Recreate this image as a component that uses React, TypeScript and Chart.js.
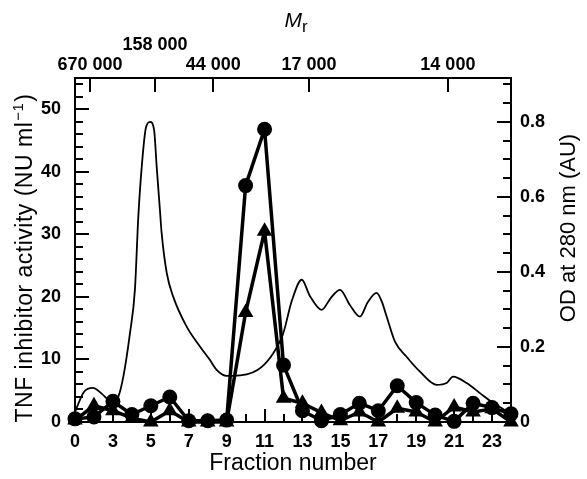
import React, { useEffect, useRef } from "react";
import { Chart, registerables } from "chart.js";

Chart.register(...registerables);

// ---- data ----
const fractions = [1, 2, 3, 4, 5, 6, 7, 8, 9, 10, 11, 12, 13, 14, 15, 16, 17, 18, 19, 20, 21, 22, 23, 24];
const circleValues = [0.5, 0.8, 3.3, 1.2, 2.6, 4.0, 0.2, 0.2, 0.3, 37.8, 46.8, 9.1, 1.8, 0.2, 1.2, 3.0, 1.8, 5.8, 3.1, 1.1, 0.1, 3.0, 2.3, 1.3];
const triangleValues = [0.3, 2.6, 1.8, 0.6, 0.0, 1.8, 0.0, 0.0, 0.0, 17.5, 30.5, 3.8, 3.0, 1.5, 0.2, 1.6, 0.0, 2.2, 1.6, 0.0, 2.4, 1.6, 2.1, 0.0];

const odFractions = [1.0, 1.47, 1.95, 2.42, 2.95, 3.28, 3.55, 3.9, 4.16, 4.34, 4.52, 4.74, 4.96, 5.17, 5.31, 5.48, 5.57, 5.84, 6.18, 6.89, 7.59, 8.12, 8.47, 9.0, 9.33, 11.92, 12.45, 12.96, 13.39, 14.01, 14.5, 14.98, 15.5, 16.03, 16.45, 16.91, 17.19, 17.44, 17.88, 18.49, 19.2, 20.08, 20.6, 20.94, 21.66, 22.36, 23.05, 23.94];
const odValues = [0.027, 0.08, 0.091, 0.075, 0.053, 0.067, 0.121, 0.237, 0.352, 0.547, 0.68, 0.784, 0.8, 0.779, 0.68, 0.565, 0.504, 0.397, 0.334, 0.254, 0.201, 0.165, 0.139, 0.123, 0.123, 0.227, 0.325, 0.379, 0.336, 0.299, 0.331, 0.352, 0.312, 0.281, 0.32, 0.344, 0.32, 0.281, 0.214, 0.174, 0.134, 0.099, 0.104, 0.121, 0.104, 0.077, 0.051, 0.024];

const bottomTickValues = [1, 3, 5, 7, 9, 11, 13, 15, 17, 19, 21, 23];
const bottomTickLabels = ["0", "3", "5", "7", "9", "11", "13", "15", "17", "19", "21", "23"];
const topTickValues = [1.79, 5.22, 8.29, 13.34, 20.67];
const topTickLabels = ["670 000", "158 000", "44 000", "17 000", "14 000"];
const topTickRaised = [false, true, false, false, false];
const leftTickValues = [0, 10, 20, 30, 40, 50];
const rightTickValues = [0, 0.2, 0.4, 0.6, 0.8];
const rightTickLabels = ["0", "0.2", "0.4", "0.6", "0.8"];

const leftTitleMain = "TNF inhibitor activity (NU ml";
const leftTitleSup = "\u22121";
const leftTitleEnd = ")";
const rightTitle = "OD at 280 nm (AU)";

const X_MIN = 1;
const X_MAX = 24;
const LEFT_MAX = 55;
const RIGHT_MAX = 55 / 60;

const FONT = "'Liberation Sans', Arial, Helvetica, sans-serif";

const inwardTicks = {
  id: "inwardTicks",
  beforeDatasetsDraw(chart: any) {
    const { ctx, chartArea: a, scales } = chart;
    ctx.save();
    ctx.strokeStyle = "#000";
    ctx.lineWidth = 2;
    ctx.beginPath();
    for (let v = 0; v <= 54; v += 2) {
      const y = Math.round(scales.y.getPixelForValue(v));
      const len = v % 10 === 0 ? 14 : 8;
      ctx.moveTo(a.left, y);
      ctx.lineTo(a.left + len, y);
    }
    for (let k = 0; k <= 18; k++) {
      const y = Math.round(scales.y2.getPixelForValue(k * 0.05));
      const len = k % 4 === 0 ? 14 : 8;
      ctx.moveTo(a.right, y);
      ctx.lineTo(a.right - len, y);
    }
    for (let f = 1; f <= 24; f++) {
      const x = Math.round(scales.x.getPixelForValue(f));
      const len = f % 2 === 1 ? 13 : 8;
      ctx.moveTo(x, a.bottom);
      ctx.lineTo(x, a.bottom - len);
    }
    topTickValues.forEach((v) => {
      const x = Math.round(scales.x2.getPixelForValue(v));
      ctx.moveTo(x, a.top);
      ctx.lineTo(x, a.top + 14);
    });
    ctx.stroke();
    ctx.restore();
  },
  afterDraw(chart: any) {
    const { ctx, chartArea: a } = chart;
    const midY = (a.top + a.bottom) / 2;
    ctx.save();
    ctx.fillStyle = "#000";
    // M_r title
    const cx = (a.left + a.right) / 2;
    ctx.textBaseline = "alphabetic";
    ctx.textAlign = "left";
    ctx.font = `italic 21px ${FONT}`;
    ctx.fillText("M", cx - 8.5, 27);
    const wM = ctx.measureText("M").width;
    ctx.font = `17px ${FONT}`;
    ctx.fillText("r", cx - 8.5 + wM, 32);
    ctx.restore();

    // left axis title (bottom to top) with superscript
    ctx.save();
    ctx.fillStyle = "#000";
    ctx.textBaseline = "alphabetic";
    ctx.textAlign = "left";
    (ctx as any).letterSpacing = "0.5px";
    const mainFont = `23px ${FONT}`;
    const supFont = `15px ${FONT}`;
    ctx.font = mainFont;
    const w1 = ctx.measureText(leftTitleMain).width;
    const w3 = ctx.measureText(leftTitleEnd).width;
    ctx.font = supFont;
    const w2 = ctx.measureText(leftTitleSup).width;
    const total = w1 + w2 + w3 + 2;
    ctx.translate(32, midY + 8);
    ctx.rotate(-Math.PI / 2);
    let x0 = -total / 2;
    ctx.font = mainFont;
    ctx.fillText(leftTitleMain, x0, 0);
    x0 += w1 + 1;
    ctx.font = supFont;
    ctx.fillText(leftTitleSup, x0, -9);
    x0 += w2 + 1;
    ctx.font = mainFont;
    ctx.fillText(leftTitleEnd, x0, 0);
    ctx.restore();

    // right axis title (reads bottom to top)
    ctx.save();
    ctx.fillStyle = "#000";
    ctx.translate(chart.width - 12, midY - 22);
    ctx.rotate(-Math.PI / 2);
    ctx.textAlign = "center";
    ctx.textBaseline = "alphabetic";
    ctx.font = `22px ${FONT}`;
    ctx.fillText(rightTitle, 0, 0);
    ctx.restore();
  },
};

export default function App() {
  const ref = useRef<HTMLCanvasElement | null>(null);

  useEffect(() => {
    if (!ref.current) return;
    Chart.defaults.font.family = FONT;
    Chart.defaults.color = "#000";
    const tickFont = { size: 18, weight: "bold" as const, lineHeight: 1.12 };
    const noGrid = { display: false, drawTicks: false };

    const chart = new Chart(ref.current, {
      type: "line",
      data: {
        datasets: [
          {
            label: "circles",
            data: fractions.map((f, i) => ({ x: f, y: circleValues[i] })),
            yAxisID: "y",
            xAxisID: "x",
            borderColor: "#000",
            backgroundColor: "#000",
            borderWidth: 3.5,
            borderJoinStyle: "round",
            pointStyle: "circle",
            pointRadius: 7.5,
            pointBackgroundColor: "#000",
            pointBorderColor: "#000",
            pointBorderWidth: 0,
            tension: 0,
            clip: false,
          },
          {
            label: "triangles",
            data: fractions.map((f, i) => ({ x: f, y: triangleValues[i] })),
            yAxisID: "y",
            xAxisID: "x",
            borderColor: "#000",
            backgroundColor: "#000",
            borderWidth: 3.5,
            borderJoinStyle: "round",
            pointStyle: "triangle",
            pointRadius: 9,
            pointBackgroundColor: "#000",
            pointBorderColor: "#000",
            pointBorderWidth: 0,
            tension: 0,
            clip: false,
          },
          {
            label: "OD",
            data: odFractions.map((f, i) => ({ x: f, y: odValues[i] })),
            yAxisID: "y2",
            xAxisID: "x",
            borderColor: "#000",
            borderWidth: 1.8,
            pointRadius: 0,
            tension: 0.4,
            cubicInterpolationMode: "monotone",
            clip: false,
          },
        ],
      },
      options: {
        animation: false,
        responsive: false,
        devicePixelRatio: 1,
        layout: { padding: 0 },
        plugins: {
          legend: { display: false },
          tooltip: { enabled: false },
          title: { display: false },
        },
        scales: {
          x: {
            type: "linear",
            position: "bottom",
            min: X_MIN,
            max: X_MAX,
            grid: noGrid,
            border: { display: true, color: "#000", width: 2 },
            afterBuildTicks: (s: any) => {
              s.ticks = bottomTickValues.map((v) => ({ value: v }));
            },
            afterFit: (s: any) => {
              s.height = 57;
            },
            ticks: {
              autoSkip: false,
              maxRotation: 0,
              padding: 10,
              font: tickFont,
              color: "#000",
              callback: (_v: any, i: number) => bottomTickLabels[i],
            },
            title: {
              display: true,
              text: "Fraction number",
              font: { size: 23 },
              color: "#000",
              padding: { top: 0, bottom: 2 },
            },
          },
          x2: {
            type: "linear",
            position: "top",
            min: X_MIN,
            max: X_MAX,
            grid: noGrid,
            border: { display: true, color: "#000", width: 2 },
            afterBuildTicks: (s: any) => {
              s.ticks = topTickValues.map((v) => ({ value: v }));
            },
            afterFit: (s: any) => {
              s.height = 78;
            },
            ticks: {
              autoSkip: false,
              maxRotation: 0,
              padding: 3,
              font: tickFont,
              color: "#000",
              callback: (_v: any, i: number) =>
                topTickRaised[i] ? [topTickLabels[i], ""] : topTickLabels[i],
            },
          },
          y: {
            type: "linear",
            position: "left",
            min: 0,
            max: LEFT_MAX,
            grid: noGrid,
            border: { display: true, color: "#000", width: 2 },
            afterBuildTicks: (s: any) => {
              s.ticks = leftTickValues.map((v) => ({ value: v }));
            },
            afterFit: (s: any) => {
              s.width = 75;
            },
            ticks: {
              padding: 14,
              font: tickFont,
              color: "#000",
              callback: (v: any) => String(v),
            },
          },
          y2: {
            type: "linear",
            position: "right",
            min: 0,
            max: RIGHT_MAX,
            grid: noGrid,
            border: { display: true, color: "#000", width: 2 },
            afterBuildTicks: (s: any) => {
              s.ticks = rightTickValues.map((v) => ({ value: v }));
            },
            afterFit: (s: any) => {
              s.width = 76;
            },
            ticks: {
              padding: 9,
              font: tickFont,
              color: "#000",
              callback: (_v: any, i: number) => rightTickLabels[i],
            },
          },
        },
      },
      plugins: [inwardTicks],
    } as any);

    return () => {
      chart.destroy();
    };
  }, []);

  return (
    <div style={{ position: "absolute", left: 0, top: 0, width: 587, height: 479, background: "#fff" }}>
      <canvas ref={ref} width={587} height={479} style={{ display: "block" }} />
    </div>
  );
}
